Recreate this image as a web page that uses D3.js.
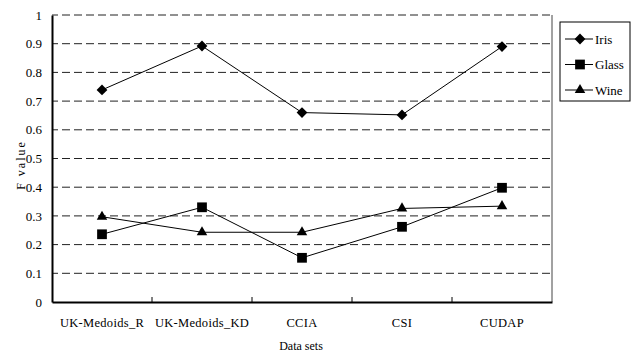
<!DOCTYPE html>
<html>
<head>
<meta charset="utf-8">
<script src="https://cdn.jsdelivr.net/npm/d3@7"></script>
<style>
	body { margin: 0; background: #fff; }
</style>
</head>
<body>
<div id="chart"></div>
<script>
const categories = ["UK-Medoids_R", "UK-Medoids_KD", "CCIA", "CSI", "CUDAP"];
const irisValues = [0.739, 0.892, 0.66, 0.652, 0.89];
const glassValues = [0.236, 0.33, 0.154, 0.262, 0.398];
const wineValues = [0.297, 0.243, 0.243, 0.326, 0.334];
const yTicks = [0, 0.1, 0.2, 0.3, 0.4, 0.5, 0.6, 0.7, 0.8, 0.9, 1];

const width = 631;
const height = 354;
const margin = { top: 15, right: 79, bottom: 52, left: 52 };
const FONT = "Liberation Serif";

// diamond = square turned 45 degrees
const series = [
	{ name: "Iris", values: irisValues, symbol: d3.symbolSquare, size: 58, rotate: 45 },
	{ name: "Glass", values: glassValues, symbol: d3.symbolSquare, size: 95, rotate: 0 },
	{ name: "Wine", values: wineValues, symbol: d3.symbolTriangle, size: 48, rotate: 0 },
];

const svg = d3
	.select("#chart")
	.append("svg")
	.attr("width", width)
	.attr("height", height);

const x = d3
	.scaleBand()
	.domain(categories)
	.range([margin.left, width - margin.right]);

const y = d3
	.scaleLinear()
	.domain([0, 1])
	.range([height - margin.bottom, margin.top]);

// dashed gridlines (top edge too)
svg.append("g")
	.selectAll("line")
	.data(yTicks.filter((t) => t > 0))
	.enter()
	.append("line")
	.attr("x1", margin.left)
	.attr("x2", width - margin.right)
	.attr("y1", (d) => y(d))
	.attr("y2", (d) => y(d))
	.attr("stroke", "#222")
	.attr("stroke-width", 1)
	.attr("stroke-dasharray", "8,4")
	.attr("stroke-dashoffset", 2);

svg.append("line")
	.attr("x1", width - margin.right)
	.attr("x2", width - margin.right)
	.attr("y1", y(1))
	.attr("y2", y(0))
	.attr("stroke", "#444");

// y axis
const yAxis = svg
	.append("g")
	.attr("transform", `translate(${margin.left},0)`)
	.call(d3.axisLeft(y).tickValues(yTicks).tickFormat((d) => String(+d.toFixed(1))).tickSize(0).tickPadding(10));
yAxis.select(".domain").attr("stroke", "#000").attr("stroke-width", 2);
yAxis.selectAll("text").attr("font-size", 13).attr("font-family", FONT);

// x axis
const xAxis = svg
	.append("g")
	.attr("transform", `translate(0,${y(0)})`)
	.call(d3.axisBottom(x).tickSize(0));
xAxis.select(".domain").attr("stroke", "#000").attr("stroke-width", 2);
xAxis.selectAll("text")
	.attr("y", 25)
	.attr("dy", 0)
	.attr("font-size", 12.5)
	.attr("font-family", FONT)
	.attr("letter-spacing", "0.3px");

// x ticks between categories, pointing inward
svg.append("g")
	.selectAll("line")
	.data(categories.slice(1))
	.enter()
	.append("line")
	.attr("x1", (d) => x(d))
	.attr("x2", (d) => x(d))
	.attr("y1", y(0))
	.attr("y2", y(0) - 5)
	.attr("stroke", "#000");

// axis titles
svg.append("text")
	.attr("x", 301)
	.attr("y", 350)
	.attr("text-anchor", "middle")
	.attr("font-size", 12)
	.attr("font-family", FONT)
	.text("Data sets");

svg.append("text")
	.attr("transform", "translate(25,165) rotate(-90)")
	.attr("text-anchor", "middle")
	.attr("font-size", 12)
	.attr("font-family", FONT)
	.attr("letter-spacing", "2px")
	.text("F value");

// lines and markers
const line = d3
	.line()
	.x((d, i) => x(categories[i]) + x.bandwidth() / 2)
	.y((d) => y(d));

series.forEach((s) => {
	svg.append("path")
		.datum(s.values)
		.attr("d", line)
		.attr("fill", "none")
		.attr("stroke", "#000")
		.attr("stroke-width", 1);
	svg.append("g")
		.selectAll("path")
		.data(s.values)
		.enter()
		.append("path")
		.attr("d", d3.symbol().type(s.symbol).size(s.size))
		.attr("transform", (d, i) => `translate(${x(categories[i]) + x.bandwidth() / 2},${y(d)}) rotate(${s.rotate})`)
		.attr("fill", "#000");
});

// legend
const legend = svg.append("g").attr("transform", "translate(560,22)");
legend.append("rect")
	.attr("width", 70)
	.attr("height", 79)
	.attr("fill", "#fff")
	.attr("stroke", "#000");
series.forEach((s, i) => {
	const ly = 17 + i * 25.5;
	legend.append("line")
		.attr("x1", 5)
		.attr("x2", 33)
		.attr("y1", ly)
		.attr("y2", ly)
		.attr("stroke", "#000");
	legend.append("path")
		.attr("d", d3.symbol().type(s.symbol).size(s.size))
		.attr("transform", `translate(20,${ly}) rotate(${s.rotate})`)
		.attr("fill", "#000");
	legend.append("text")
		.attr("x", 35)
		.attr("y", ly + 4.5)
		.attr("font-size", 13)
		.attr("font-family", FONT)
		.text(s.name);
});
</script>
</body>
</html>
